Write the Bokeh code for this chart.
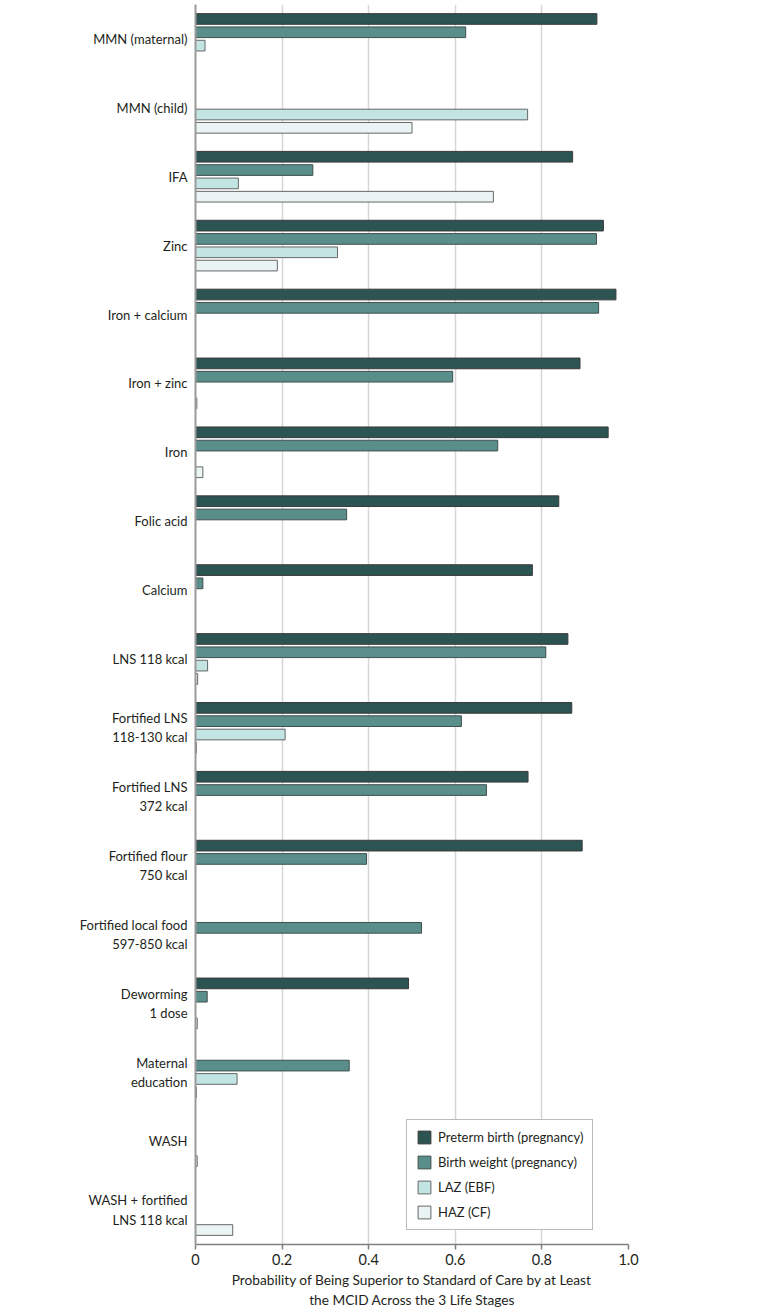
import math
from bokeh.plotting import figure
from bokeh.models import ColumnDataSource, FactorRange, Range1d, FixedTicker, Legend, LegendItem
from bokeh.transform import dodge
from bokeh.embed import file_html
from bokeh.resources import INLINE

nan = float("nan")

categories = [
    "MMN (maternal)", "MMN (child)", "IFA", "Zinc", "Iron + calcium", "Iron + zinc",
    "Iron", "Folic acid", "Calcium", "LNS 118 kcal", "Fortified LNS\n118-130 kcal",
    "Fortified LNS\n372 kcal", "Fortified flour\n750 kcal", "Fortified local food\n597-850 kcal",
    "Deworming\n1 dose", "Maternal\neducation", "WASH", "WASH + fortified\nLNS 118 kcal",
]
preterm_birth = [0.927, nan, 0.871, 0.942, 0.971, 0.888, 0.953, 0.839, 0.778, 0.860, 0.869,
                 0.768, 0.893, nan, 0.492, nan, nan, nan]
birth_weight = [0.624, nan, 0.271, 0.926, 0.931, 0.594, 0.698, 0.349, 0.017, 0.809, 0.614,
                0.672, 0.395, 0.522, 0.027, 0.355, nan, nan]
laz_ebf = [0.022, 0.767, 0.099, 0.328, nan, nan, nan, nan, nan, 0.028, 0.207,
           nan, nan, nan, nan, 0.096, nan, nan]
haz_cf = [nan, 0.500, 0.688, 0.189, nan, 0.003, 0.017, nan, nan, 0.005, 0.002,
          nan, nan, nan, 0.004, 0.002, 0.004, 0.086]

series_names = ["Preterm birth (pregnancy)", "Birth weight (pregnancy)", "LAZ (EBF)", "HAZ (CF)"]
series_values = [preterm_birth, birth_weight, laz_ebf, haz_cf]
fill_colors = ["#2c5452", "#5a8e8a", "#c2e5e4", "#eaf4f4"]
line_colors = ["#3a3a3a", "#3f4f4e", "#666666", "#666666"]
offsets = [0.29, 0.097, -0.097, -0.29]

FONT = "Lato"

source = ColumnDataSource(dict(cat=categories, s0=preterm_birth, s1=birth_weight, s2=laz_ebf, s3=haz_cf))

p = figure(
    y_range=FactorRange(factors=categories[::-1], range_padding=0),
    x_range=Range1d(0, 1.0),
    frame_width=433, frame_height=1240,
    min_border_left=195, min_border_top=4, min_border_right=30, min_border_bottom=60,
    output_backend="svg", toolbar_location=None,
)
p.outline_line_color = None

items = []
for i, (name, fc, lc, off) in enumerate(zip(series_names, fill_colors, line_colors, offsets)):
    r = p.hbar(y=dodge("cat", off, range=p.y_range), left=0, right="s%d" % i, height=0.155,
               source=source, fill_color=fc, line_color=lc, line_width=1)
    items.append(LegendItem(label=name, renderers=[r]))

legend = Legend(items=items, location=(211, 14))
legend.label_text_font = FONT
legend.label_text_font_size = "13px"
legend.label_text_color = "#231f20"
legend.glyph_width = 16
legend.glyph_height = 16
legend.label_height = 16
legend.spacing = 9
legend.padding = 9
legend.margin = 0
legend.label_standoff = 6
legend.border_line_color = "#777777"
legend.border_line_width = 1
legend.background_fill_alpha = 1
p.add_layout(legend)

# x axis
p.xaxis.ticker = FixedTicker(ticks=[0, 0.2, 0.4, 0.6, 0.8, 1.0])
p.xaxis.major_label_overrides = {0: "0", 0.2: "0.2", 0.4: "0.4", 0.6: "0.6", 0.8: "0.8", 1.0: "1.0"}
p.xaxis.axis_label = "Probability of Being Superior to Standard of Care by at Least\nthe MCID Across the 3 Life Stages"
p.xaxis.axis_label_text_font = FONT
p.xaxis.axis_label_text_font_size = "13.7px"
p.xaxis.axis_label_text_font_style = "normal"
p.xaxis.axis_label_text_color = "#231f20"
p.xaxis.axis_label_standoff = 3
p.xaxis.major_label_text_font = FONT
p.xaxis.major_label_text_font_size = "14.5px"
p.xaxis.major_label_text_color = "#231f20"
p.xaxis.major_label_standoff = 4
p.xaxis.major_tick_out = 5
p.xaxis.major_tick_in = 0
p.xaxis.minor_tick_out = 0
p.xaxis.minor_tick_in = 0
p.xaxis.axis_line_color = "#808080"
p.xaxis.axis_line_width = 1.5
p.xaxis.major_tick_line_color = "#808080"
p.xaxis.major_tick_line_width = 1.5

# y axis
p.yaxis.major_label_text_font = FONT
p.yaxis.major_label_text_font_size = "13px"
p.yaxis.major_label_text_color = "#231f20"
p.yaxis.major_tick_line_color = None
p.yaxis.minor_tick_line_color = None
p.yaxis.major_tick_out = 0
p.yaxis.major_tick_in = 0
p.yaxis.major_label_standoff = 8
p.yaxis.axis_line_color = "#9a9a9a"
p.yaxis.axis_line_width = 2

p.xgrid.ticker = FixedTicker(ticks=[0.2, 0.4, 0.6, 0.8, 1.0])
p.xgrid.grid_line_color = "#d6d6d6"
p.xgrid.grid_line_width = 1.5
p.ygrid.grid_line_color = None

open("out.html", "w").write(file_html(p, INLINE))
